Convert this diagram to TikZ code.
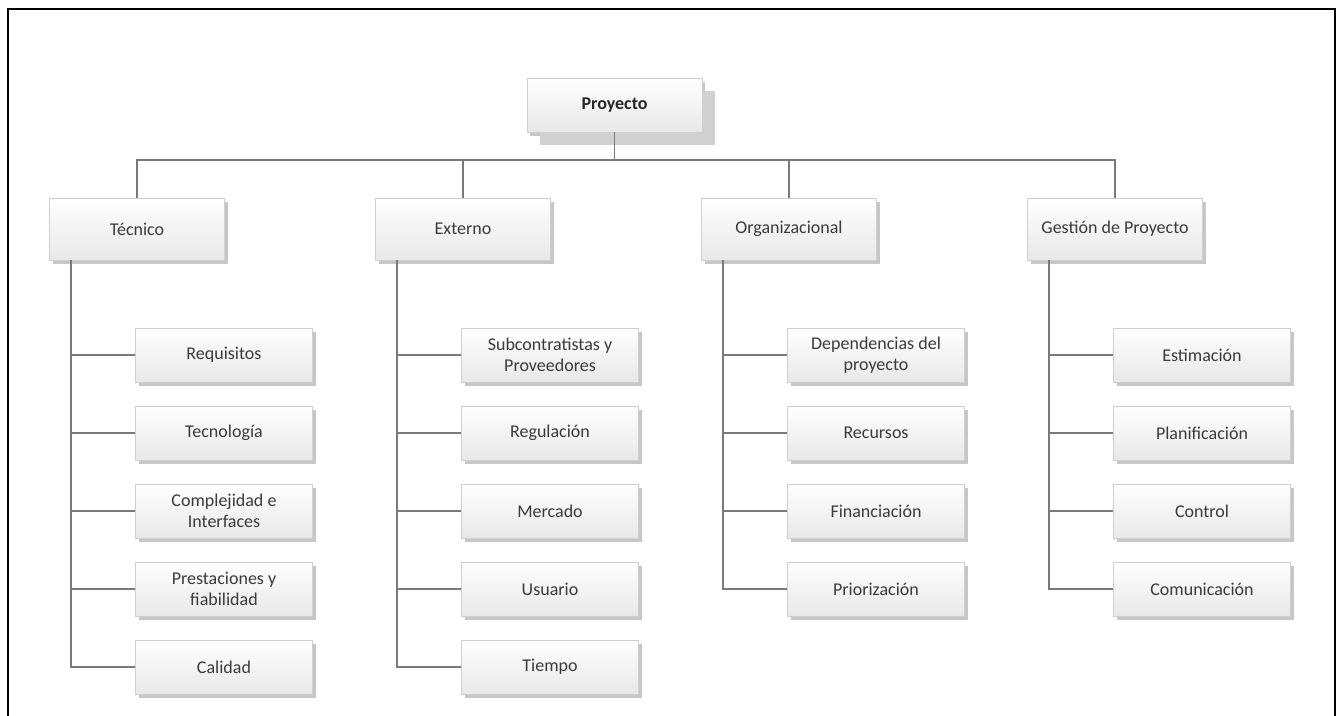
\documentclass[tikz,border=0pt]{standalone}
\usepackage{fontspec}
\setmainfont{Carlito}
\usepackage{tikz}
\usetikzlibrary{positioning, shadows}

\definecolor{linkgray}{HTML}{7A7A7A}
\definecolor{boxedge}{HTML}{CFCFCF}
\definecolor{boxtext}{HTML}{3A3A3A}

\tikzset{
  box/.style={draw=boxedge, line width=0.8, top color=white, bottom color=black!9,
    text=boxtext, align=center, font=\fontsize{18}{21}\selectfont,
    drop shadow={shadow xshift=3, shadow yshift=4, fill=black!22, opacity=1}},
  mainbox/.style={box, minimum width=175, minimum height=62},
  subbox/.style={box, minimum width=177, minimum height=54},
  link/.style={draw=linkgray, line width=1.8}
}

\begin{document}
\begin{tikzpicture}[x=1pt, y=-1pt]
    \useasboundingbox (0,0) rectangle (1340,715);
    % outer frame, open at the bottom
    \draw[line width=2.6] (8,716) -- (8,9) -- (1335,9) -- (1335,716);

    % Root
    \node (pro) at (614.5,105) [box, minimum width=175, minimum height=54, font=\fontsize{18}{21}\selectfont\bfseries, text=black!85,
      drop shadow={shadow xshift=13, shadow yshift=13, fill=black!18, opacity=1}] {Proyecto};
    \coordinate (bus) at (614.5,160);

    % Main branches
    \node (tec) at (137,229) [mainbox] {Técnico};
    \node (ext) at (463,229) [mainbox] {Externo};
    \node (org) at (789,229) [mainbox] {Organizacional};
    \node (ges) at (1115,229) [mainbox] {Gestión de Proyecto};

    \draw[link] (pro.south) -- (bus);
    \draw[link] (tec.north) |- (bus);
    \draw[link] (ext.north) |- (bus);
    \draw[link] (org.north) |- (bus);
    \draw[link] (ges.north) |- (bus);

    % Técnico
    \node (req) at (224,355) [subbox] {Requisitos};
    \node (tcn) at (224,433) [subbox] {Tecnología};
    \node (cpl) at (224,511) [subbox] {Complejidad e\\Interfaces};
    \node (pre) at (224,589) [subbox] {Prestaciones y\\fiabilidad};
    \node (cal) at (224,667) [subbox] {Calidad};
    \draw[link] ([xshift=22]tec.south west) |- (req.west);
    \draw[link] ([xshift=22]tec.south west) |- (tcn.west);
    \draw[link] ([xshift=22]tec.south west) |- (cpl.west);
    \draw[link] ([xshift=22]tec.south west) |- (pre.west);
    \draw[link] ([xshift=22]tec.south west) |- (cal.west);

    % Externo
    \node (sub) at (550,355) [subbox] {Subcontratistas y\\Proveedores};
    \node (reg) at (550,433) [subbox] {Regulación};
    \node (mer) at (550,511) [subbox] {Mercado};
    \node (usu) at (550,589) [subbox] {Usuario};
    \node (tie) at (550,667) [subbox] {Tiempo};
    \draw[link] ([xshift=22]ext.south west) |- (sub.west);
    \draw[link] ([xshift=22]ext.south west) |- (reg.west);
    \draw[link] ([xshift=22]ext.south west) |- (mer.west);
    \draw[link] ([xshift=22]ext.south west) |- (usu.west);
    \draw[link] ([xshift=22]ext.south west) |- (tie.west);

    % Organizacional
    \node (dep) at (876,355) [subbox] {Dependencias del\\proyecto};
    \node (rec) at (876,433) [subbox] {Recursos};
    \node (fin) at (876,511) [subbox] {Financiación};
    \node (pri) at (876,589) [subbox] {Priorización};
    \draw[link] ([xshift=22]org.south west) |- (dep.west);
    \draw[link] ([xshift=22]org.south west) |- (rec.west);
    \draw[link] ([xshift=22]org.south west) |- (fin.west);
    \draw[link] ([xshift=22]org.south west) |- (pri.west);

    % Gestión de Proyecto
    \node (est) at (1202,355) [subbox] {Estimación};
    \node (pla) at (1202,433) [subbox] {Planificación};
    \node (con) at (1202,511) [subbox] {Control};
    \node (com) at (1202,589) [subbox] {Comunicación};
    \draw[link] ([xshift=22]ges.south west) |- (est.west);
    \draw[link] ([xshift=22]ges.south west) |- (pla.west);
    \draw[link] ([xshift=22]ges.south west) |- (con.west);
    \draw[link] ([xshift=22]ges.south west) |- (com.west);
\end{tikzpicture}
\end{document}
